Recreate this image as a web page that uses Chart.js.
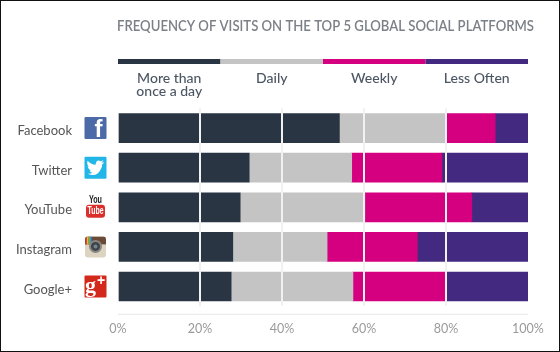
<!DOCTYPE html>
<html>
<head>
<meta charset="utf-8">
<title>Frequency of visits</title>
<script src="https://cdn.jsdelivr.net/npm/chart.js@4"></script>
<style>
    html, body { margin: 0; padding: 0; background: #fff; }
    #wrap { width: 560px; height: 352px; position: relative; }
    canvas { display: block; outline: 1px solid #111; outline-offset: -1px; }
</style>
</head>
<body>
<div id="wrap"><canvas id="chart" width="560" height="352"></canvas></div>
<script>
// Stacked 100% bars, visit frequency per social platform.
const platforms = ['Facebook', 'Twitter', 'YouTube', 'Instagram', 'Google+'];
const moreThanOnce = [54, 32, 29.8, 28, 27.6];
const daily = [26, 25, 30.4, 23, 29.7];
const weekly = [12, 22, 26.1, 22, 22.7];
const lessOften = [8, 21, 13.7, 27, 20];

const seriesNames = ['More than\nonce a day', 'Daily', 'Weekly', 'Less Often'];
const seriesColors = ['#293543', '#c4c4c4', '#d5007f', '#432a80'];
const keyShares = [25, 25, 25, 25];
const titleText = 'FREQUENCY OF VISITS ON THE TOP 5 GLOBAL SOCIAL PLATFORMS';
const fontName = 'Lato, "Open Sans", sans-serif';

function roundRect(c, x, y, w, h, r, fill) {
    c.fillStyle = fill;
    c.beginPath();
    c.roundRect(x, y, w, h, r);
    c.fill();
}

function iconText(c, txt, x, y, font, color, maxWidth) {
    c.font = font;
    c.fillStyle = color;
    c.textAlign = 'center';
    c.textBaseline = 'middle';
    c.fillText(txt, x, y, maxWidth);
}

// small brand icons, one per platform, x is the icon centre
const iconDrawers = {
    Facebook(c, x, y) {
        roundRect(c, x - 11, y - 11, 22, 22, 1, '#4c69a8');
        iconText(c, 'f', x + 3, y + 2, 'bold 24px "Liberation Sans"', '#fff');
    },
    Twitter(c, x, y) {
        roundRect(c, x - 11, y - 11, 22, 22, 1, '#22b6e8');
        c.fillStyle = '#fff';
        c.beginPath();
        c.moveTo(x - 8, y + 6);
        c.quadraticCurveTo(x + 1, y + 10, x + 5, y + 2);
        c.quadraticCurveTo(x + 7, y - 1, x + 6.5, y - 3);
        c.lineTo(x + 9, y - 5.5);
        c.lineTo(x + 6, y - 5);
        c.lineTo(x + 8, y - 7.5);
        c.lineTo(x + 5, y - 6.5);
        c.quadraticCurveTo(x + 1, y - 9, x, y - 3);
        c.quadraticCurveTo(x - 4, y - 3, x - 8, y - 7);
        c.quadraticCurveTo(x - 9, y - 3, x - 6.5, y - 1);
        c.lineTo(x - 8, y - 1.5);
        c.quadraticCurveTo(x - 7, y + 2, x - 4.5, y + 2.5);
        c.lineTo(x - 6, y + 3);
        c.quadraticCurveTo(x - 5, y + 5, x - 3, y + 5);
        c.quadraticCurveTo(x - 5, y + 6.5, x - 8, y + 6);
        c.fill();
    },
    YouTube(c, x, y) {
        iconText(c, 'You', x, y - 7, 'bold 10px "Liberation Sans"', '#1a1a1a', 13);
        roundRect(c, x - 9.5, y - 2.5, 19, 13, 3, '#dc2f2c');
        iconText(c, 'Tube', x, y + 4, 'bold 11px "Liberation Sans"', '#fff', 16);
    },
    Instagram(c, x, y) {
        roundRect(c, x - 10.5, y - 10.5, 21, 21, 3, '#dcd3c0');
        c.save();
        c.beginPath();
        c.roundRect(x - 10.5, y - 10.5, 21, 21, 3);
        c.clip();
        c.fillStyle = '#6b4a38';
        c.fillRect(x - 10.5, y - 10.5, 21, 8);
        ['#d8433c', '#e8b93a', '#6fb552', '#3f8fd0'].forEach((col, i) => {
            c.fillStyle = col;
            c.fillRect(x - 10 + i * 1.5, y - 10.5, 1.5, 8);
        });
        c.restore();
        c.fillStyle = '#8a8780';
        c.beginPath(); c.arc(x, y - 0.5, 6.5, 0, Math.PI * 2); c.fill();
        c.fillStyle = '#3d444c';
        c.beginPath(); c.arc(x, y - 0.5, 4.5, 0, Math.PI * 2); c.fill();
        c.fillStyle = '#78838c';
        c.beginPath(); c.arc(x, y - 0.5, 2, 0, Math.PI * 2); c.fill();
    },
    'Google+'(c, x, y) {
        roundRect(c, x - 11, y - 11, 22, 22, 1, '#d3281c');
        iconText(c, 'g', x - 5, y - 0.5, 'bold 22px "Liberation Serif"', '#fff');
        iconText(c, '+', x + 5.5, y - 5, 'bold 14px "Liberation Sans"', '#fff');
    }
};

// key strip, headings, title, axis rule and icons, all placed from the scales
const decorations = {
    id: 'decorations',
    afterDraw(chart) {
        const c = chart.ctx;
        const xs = chart.scales.x;
        const ys = chart.scales.y;
        c.save();

        c.font = '600 14.5px ' + fontName;
        c.fillStyle = '#7b8087';
        c.textAlign = 'left';
        c.textBaseline = 'middle';
        c.fillText(titleText, 117, 26, 417);

        let acc = 0;
        keyShares.forEach((share, i) => {
            const x0 = xs.getPixelForValue(acc);
            const x1 = xs.getPixelForValue(acc + share);
            c.fillStyle = seriesColors[i];
            c.fillRect(x0, 59, x1 - x0, 5);
            c.font = '500 14px ' + fontName;
            c.fillStyle = '#4b5663';
            c.textAlign = 'center';
            c.textBaseline = 'middle';
            seriesNames[i].split('\n').forEach((line, k) => {
                c.fillText(line, (x0 + x1) / 2, 78 + k * 13);
            });
            acc += share;
        });

        // axis rule sits a bit below the last band
        c.fillStyle = '#e6e6e6';
        c.fillRect(xs.left, chart.chartArea.bottom + 7.5, xs.right - xs.left, 1);

        platforms.forEach((name, i) => {
            iconDrawers[name](c, 95.5, ys.getPixelForValue(i));
        });
        c.restore();
    }
};

new Chart(document.getElementById('chart'), {
    type: 'bar',
    data: {
        labels: platforms,
        datasets: [moreThanOnce, daily, weekly, lessOften].map((values, i) => ({
            label: seriesNames[i],
            data: values,
            backgroundColor: seriesColors[i],
            barThickness: 29
        }))
    },
    options: {
        indexAxis: 'y',
        responsive: false,
        animation: false,
        layout: { padding: { top: 108.3, left: 0, right: 32, bottom: 0 } },
        plugins: { legend: { display: false }, tooltip: { enabled: false } },
        scales: {
            x: {
                stacked: true,
                min: 0,
                max: 100,
                afterFit: s => { s.height = 45.7; },
                border: { display: false },
                grid: {
                    z: 1,
                    drawTicks: false,
                    lineWidth: 2,
                    color: ctx => (ctx.tick && (ctx.tick.value === 0 || ctx.tick.value === 100)) ? 'rgba(0,0,0,0)' : '#f1f1f1'
                },
                ticks: {
                    stepSize: 20,
                    maxRotation: 0,
                    padding: 15,
                    color: '#9a9a9a',
                    font: { family: fontName, size: 12.5 },
                    callback: v => v + '%'
                }
            },
            y: {
                stacked: true,
                // the big tick padding would otherwise eat into the chart area height
                afterFit: s => { s.width = 118; s.paddingTop = 0; s.paddingBottom = 0; },
                border: { display: false },
                grid: { display: false, drawTicks: false },
                ticks: {
                    padding: 46,
                    labelOffset: 3,
                    color: '#555',
                    font: { family: fontName, size: 13 }
                }
            }
        }
    },
    plugins: [decorations]
});
</script>
</body>
</html>
